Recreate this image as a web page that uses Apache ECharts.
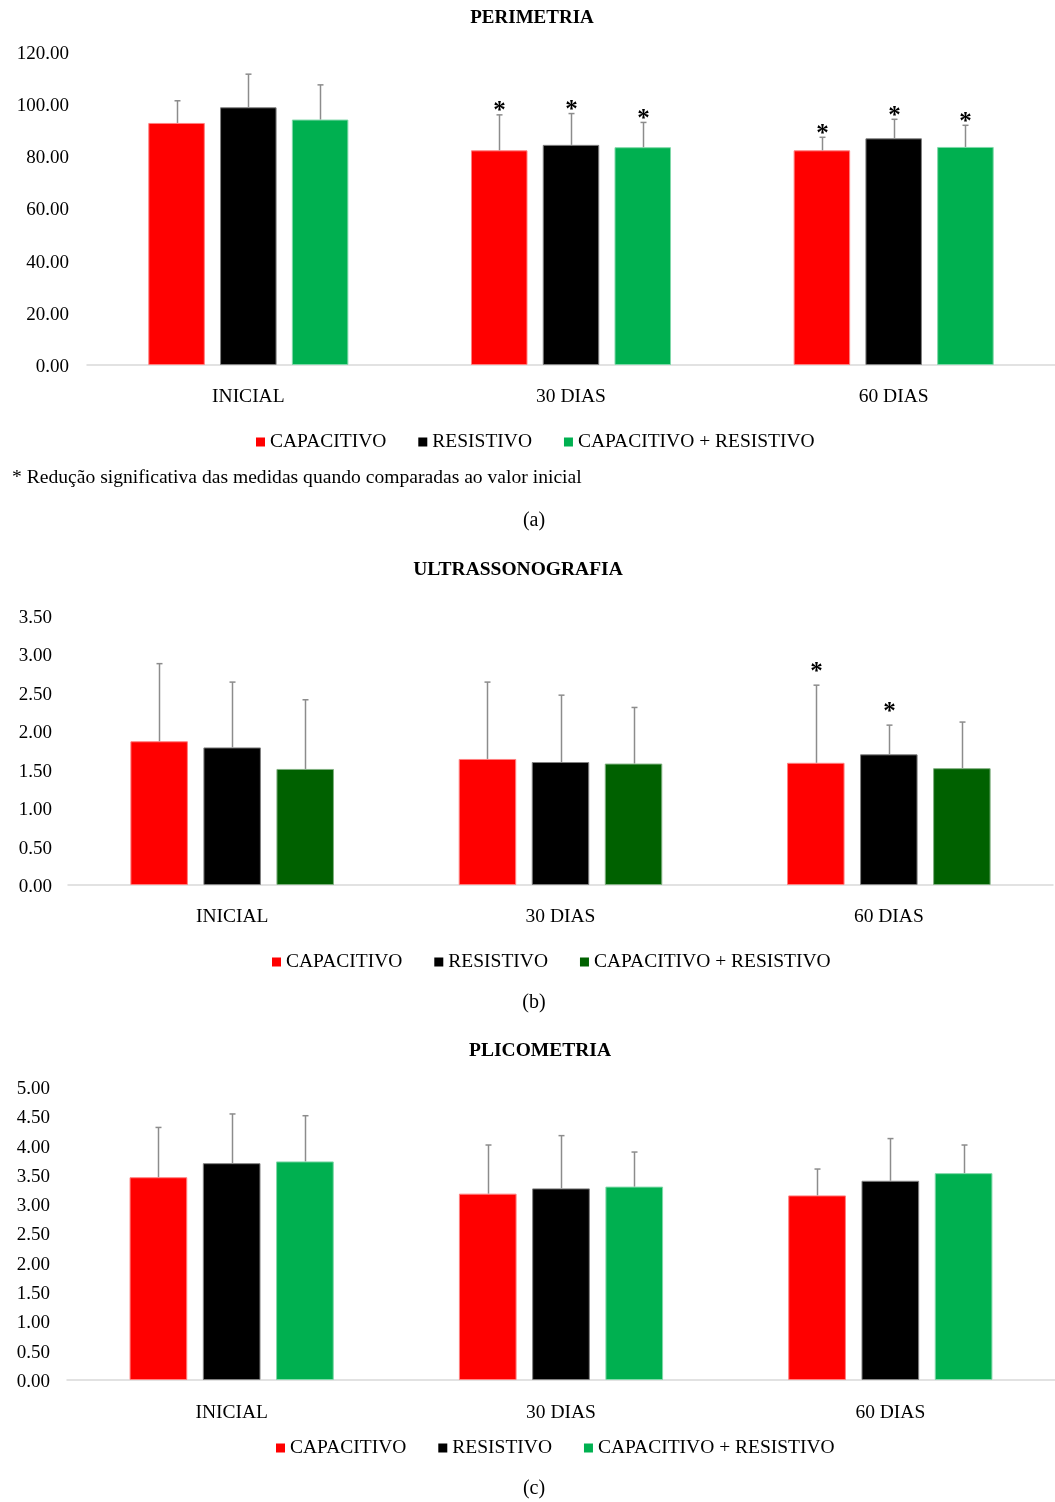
<!DOCTYPE html>
<html>
<head>
<meta charset="utf-8">
<script src="https://cdn.jsdelivr.net/npm/echarts@6/dist/echarts.min.js"></script>
<style>
  html, body { margin: 0; padding: 0; background: #fff; }
  #chart { width: 1055px; height: 1502px; }
</style>
</head>
<body>
<div id="chart"></div>
<script>
// Categories and group names
const categories = ['INICIAL', '30 DIAS', '60 DIAS'];
const groupNames = ['CAPACITIVO', 'RESISTIVO', 'CAPACITIVO + RESISTIVO'];

// PERIMETRIA (means and standard deviations)
const perimetriaCapacitivo = [92.8, 82.3, 82.3];
const perimetriaResistivo = [98.8, 84.4, 86.9];
const perimetriaCombinado = [94.1, 83.5, 83.6];
const perimetriaCapacitivoDP = [8.5, 13.6, 5.0];
const perimetriaResistivoDP = [12.7, 12.0, 7.3];
const perimetriaCombinadoDP = [13.3, 9.5, 8.3];
// significance flags (1 = asterisk)
const perimetriaCapacitivoSig = [0, 1, 1];
const perimetriaResistivoSig = [0, 1, 1];
const perimetriaCombinadoSig = [0, 1, 1];
const perimetriaEscala = [0, 120, 20];

// ULTRASSONOGRAFIA
const ultraCapacitivo = [1.87, 1.64, 1.59];
const ultraResistivo = [1.79, 1.60, 1.70];
const ultraCombinado = [1.51, 1.58, 1.52];
const ultraCapacitivoDP = [1.01, 1.00, 1.01];
const ultraResistivoDP = [0.85, 0.87, 0.38];
const ultraCombinadoDP = [0.90, 0.73, 0.60];
const ultraCapacitivoSig = [0, 0, 1];
const ultraResistivoSig = [0, 0, 1];
const ultraCombinadoSig = [0, 0, 0];
const ultraEscala = [0, 3.5, 0.5];

// PLICOMETRIA
const plicoCapacitivo = [3.46, 3.18, 3.15];
const plicoResistivo = [3.70, 3.27, 3.40];
const plicoCombinado = [3.73, 3.30, 3.53];
const plicoCapacitivoDP = [0.85, 0.83, 0.45];
const plicoResistivoDP = [0.84, 0.90, 0.72];
const plicoCombinadoDP = [0.78, 0.59, 0.48];
const plicoCapacitivoSig = [0, 0, 0];
const plicoResistivoSig = [0, 0, 0];
const plicoCombinadoSig = [0, 0, 0];
const plicoEscala = [0, 5, 0.5];

const FONT = '"Liberation Serif", "Times New Roman", serif';
const RED = '#ff0000', BLACK = '#000000', GREEN = '#00b050', DARK_GREEN = '#006100';
const CAT_GAP = 0.38, BAR_GAP = 0.27;

const panels = [
  { grid: { left: 87, top: 52, width: 968, height: 313 }, scale: perimetriaEscala, labelMargin: 18, catMargin: 22,
    colors: [RED, BLACK, GREEN], borders: ['#ff8080', '#808080', '#7fd8a8'], starGap: 3,
    means: [perimetriaCapacitivo, perimetriaResistivo, perimetriaCombinado],
    sds: [perimetriaCapacitivoDP, perimetriaResistivoDP, perimetriaCombinadoDP],
    sigs: [perimetriaCapacitivoSig, perimetriaResistivoSig, perimetriaCombinadoSig],
    legendLeft: 256, legendTop: 432 },
  { grid: { left: 68, top: 616, width: 985, height: 269 }, scale: ultraEscala, labelMargin: 16, catMargin: 22,
    colors: [RED, BLACK, DARK_GREEN], borders: ['#ff8080', '#808080', '#7fb07f'], starGap: 13,
    means: [ultraCapacitivo, ultraResistivo, ultraCombinado],
    sds: [ultraCapacitivoDP, ultraResistivoDP, ultraCombinadoDP],
    sigs: [ultraCapacitivoSig, ultraResistivoSig, ultraCombinadoSig],
    legendLeft: 272, legendTop: 952 },
  { grid: { left: 67, top: 1087, width: 988, height: 293 }, scale: plicoEscala, labelMargin: 17, catMargin: 23,
    colors: [RED, BLACK, GREEN], borders: ['#ff8080', '#808080', '#7fd8a8'], starGap: 3,
    means: [plicoCapacitivo, plicoResistivo, plicoCombinado],
    sds: [plicoCapacitivoDP, plicoResistivoDP, plicoCombinadoDP],
    sigs: [plicoCapacitivoSig, plicoResistivoSig, plicoCombinadoSig],
    legendLeft: 276, legendTop: 1438 }
];

// Error bar (upper whisker + cap) and optional significance asterisk
function errorSeries(p, gi, si) {
  return {
    type: 'custom',
    xAxisIndex: gi, yAxisIndex: gi,
    silent: true, z: 5,
    data: p.means[si].map((m, i) => [i, m, p.sds[si][i], p.sigs[si][i]]),
    encode: { x: 0, y: 1 },
    renderItem(params, api) {
      const cat = api.value(0), mean = api.value(1), sd = api.value(2), sig = api.value(3);
      const band = api.size([1, 0])[0];
      const group = band * (1 - CAT_GAP);
      const bw = group / (3 + 2 * BAR_GAP);
      const dx = -group / 2 + bw / 2 + si * bw * (1 + BAR_GAP);
      const base = api.coord([cat, mean]);
      const top = api.coord([cat, mean + sd]);
      const x = Math.round(base[0] + dx) + 0.5;
      const stroke = { stroke: '#8c8c8c', lineWidth: 1.5 };
      const children = [
        { type: 'line', shape: { x1: x, y1: base[1], x2: x, y2: top[1] }, style: stroke },
        { type: 'line', shape: { x1: x - 3, y1: top[1], x2: x + 3, y2: top[1] }, style: stroke }
      ];
      if (sig) {
        children.push({
          type: 'text', x: x, y: top[1] - p.starGap,
          style: { text: '*', fill: '#000', font: 'bold 25px ' + FONT, align: 'center', verticalAlign: 'middle' }
        });
      }
      return { type: 'group', children };
    }
  };
}

const grids = [], xAxes = [], yAxes = [], legends = [], series = [];
panels.forEach((p, gi) => {
  grids.push(p.grid);
  xAxes.push({
    type: 'category', gridIndex: gi, data: categories,
    axisLine: { lineStyle: { color: '#d9d9d9', width: 1.5 } },
    axisTick: { show: false },
    axisLabel: { color: '#000', fontFamily: FONT, fontSize: 19.5, margin: p.catMargin }
  });
  yAxes.push({
    type: 'value', gridIndex: gi, min: p.scale[0], max: p.scale[1], interval: p.scale[2],
    axisLine: { show: false }, axisTick: { show: false }, splitLine: { show: false },
    axisLabel: {
      margin: p.labelMargin,
      formatter: v => '{t|' + v.toFixed(2) + '}',
      rich: { t: { color: '#000', fontFamily: FONT, fontSize: 19, padding: [4, 0, 0, 0] } }
    }
  });
  legends.push({
    left: p.legendLeft, top: p.legendTop, padding: 0,
    itemWidth: 9, itemHeight: 9, itemGap: 32, icon: 'rect',
    selectedMode: false,
    textStyle: { color: '#000', fontFamily: FONT, fontSize: 19.5, lineHeight: 20 },
    data: groupNames.map((n, si) => ({ name: n, itemStyle: { color: p.colors[si], borderWidth: 0 } }))
  });
  groupNames.forEach((n, si) => {
    series.push({
      type: 'bar', name: n, xAxisIndex: gi, yAxisIndex: gi,
      data: p.means[si],
      barCategoryGap: (CAT_GAP * 100) + '%', barGap: (BAR_GAP * 100) + '%',
      itemStyle: { color: p.colors[si], borderColor: p.borders[si], borderWidth: 1 },
      emphasis: { disabled: true }
    });
  });
  groupNames.forEach((n, si) => series.push(errorSeries(p, gi, si)));
});

const textStyle = (t, x, y, font, align) => ({
  type: 'text', x: x, y: y,
  style: { text: t, fill: '#000', font: font, align: align || 'center', verticalAlign: 'middle' }
});

const chart = echarts.init(document.getElementById('chart'), null, { renderer: 'canvas' });
chart.setOption({
  backgroundColor: '#fff',
  animation: false,
  grid: grids, xAxis: xAxes, yAxis: yAxes, legend: legends, series: series,
  graphic: [
    textStyle('PERIMETRIA', 532, 18, 'bold 19px ' + FONT),
    textStyle('* Redução significativa das medidas quando comparadas ao valor inicial', 12, 478, '19.6px ' + FONT, 'left'),
    textStyle('(a)', 534, 521, '20px ' + FONT),
    textStyle('ULTRASSONOGRAFIA', 518, 570, 'bold 19.5px ' + FONT),
    textStyle('(b)', 534, 1003, '20px ' + FONT),
    textStyle('PLICOMETRIA', 540, 1051, 'bold 19.5px ' + FONT),
    textStyle('(c)', 534, 1489, '20px ' + FONT)
  ]
});
</script>
</body>
</html>
